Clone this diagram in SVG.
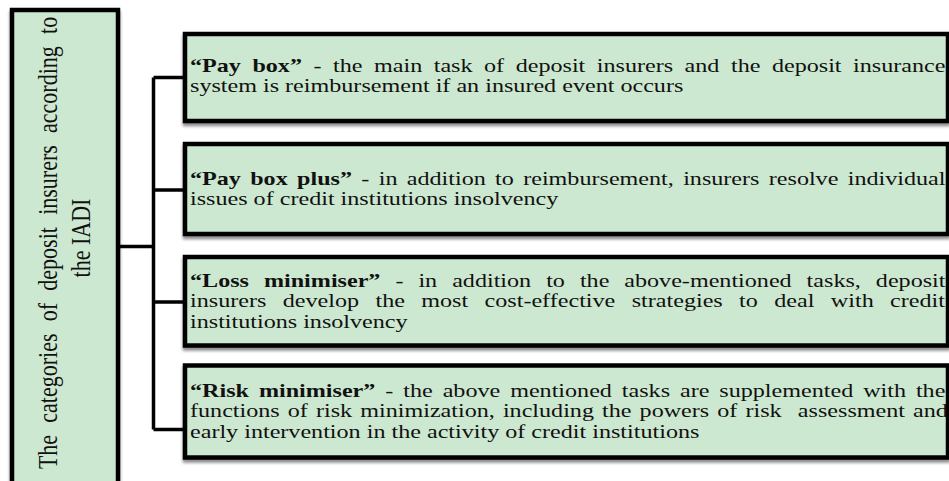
<svg xmlns="http://www.w3.org/2000/svg" width="949" height="481" viewBox="0 0 949 481">
<defs>
<filter id="sh" x="-5%" y="-20%" width="110%" height="150%">
<feDropShadow dx="0" dy="3" stdDeviation="1.5" flood-color="#000" flood-opacity="0.45"/>
</filter>
</defs>
<style>
.box{fill:#cde8d0;stroke:#000;stroke-width:4.5}
.t{font-family:"Liberation Serif","Times New Roman",serif;font-size:18px;fill:#111}
.b{font-weight:bold}
.conn{fill:none;stroke:#000;stroke-width:3.5}
</style>
<rect width="949" height="481" fill="#fff"/>
<g id="connectors" class="conn">
<path d="M118 246.5H153.5M153.5 77.5V429.5M153.5 77.5H185M153.5 190H185M153.5 302H185M153.5 429.5H185"/>
</g>
<g id="root">
<rect class="box" x="12" y="10" width="106" height="490" filter="url(#sh)"/>
<g transform="translate(0,243) rotate(-90) scale(1,1.2)">
<text class="t" style="font-size:22px;word-spacing:6.8px" text-anchor="middle" x="0" y="47.5">The categories of deposit insurers according to</text>
<text class="t" style="font-size:22px" text-anchor="middle" x="5" y="75">the IADI</text>
</g>
</g>
<g id="paybox">
<rect class="box" x="185" y="34" width="763" height="87" filter="url(#sh)"/>
<g transform="scale(1.34,1)">
<text class="t" x="141.8" y="72" style="word-spacing:4.1px"><tspan class="b">“Pay box”</tspan> - the main task of deposit insurers and the deposit insurance</text>
<text class="t" x="141.8" y="92">system is reimbursement if an insured event occurs</text>
</g>
</g>
<g id="payboxplus">
<rect class="box" x="185" y="144" width="763" height="90" filter="url(#sh)"/>
<g transform="scale(1.34,1)">
<text class="t" x="141.8" y="185" style="word-spacing:2.47px"><tspan class="b">“Pay box plus”</tspan> - in addition to reimbursement, insurers resolve individual</text>
<text class="t" x="141.8" y="205">issues of credit institutions insolvency</text>
</g>
</g>
<g id="lossminimiser">
<rect class="box" x="185" y="257" width="763" height="88.5" filter="url(#sh)"/>
<g transform="scale(1.34,1)">
<text class="t" x="141.8" y="287" style="word-spacing:6.69px"><tspan class="b">“Loss minimiser”</tspan> - in addition to the above-mentioned tasks, deposit</text>
<text class="t" x="141.8" y="307.5" style="word-spacing:7.75px">insurers develop the most cost-effective strategies to deal with credit</text>
<text class="t" x="141.8" y="328">institutions insolvency</text>
</g>
</g>
<g id="riskminimiser">
<rect class="box" x="185" y="365.5" width="763" height="92" filter="url(#sh)"/>
<g transform="scale(1.34,1)">
<text class="t" x="141.8" y="397" style="word-spacing:2.92px"><tspan class="b">“Risk minimiser”</tspan> - the above mentioned tasks are supplemented with the</text>
<text class="t" x="141.8" y="417.5" style="word-spacing:1.55px;white-space:pre">functions of risk minimization, including the powers of risk  assessment and</text>
<text class="t" x="141.8" y="438">early intervention in the activity of credit institutions</text>
</g>
</g>
</svg>
